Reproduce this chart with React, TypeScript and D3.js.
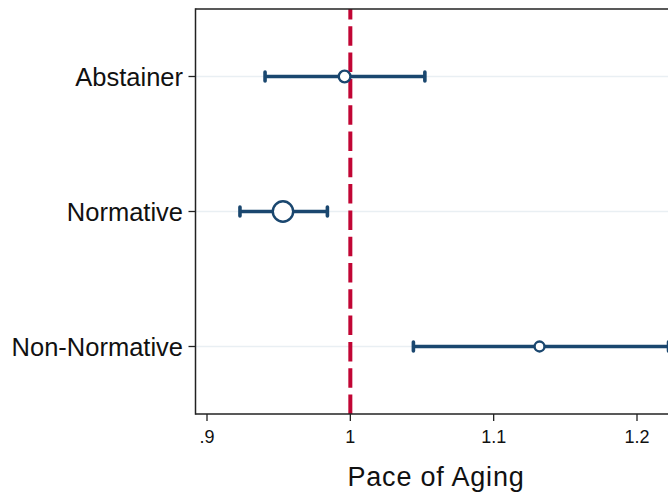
import React from "react";
import * as d3 from "d3";

const categories = ["Abstainer", "Normative", "Non-Normative"];
const estimates = [0.996, 0.953, 1.132];
const lowerCI = [0.9405, 0.923, 1.044];
const upperCI = [1.052, 0.984, 1.222];
const groupShare = [0.21, 0.64, 0.15];
const xTicks = [0.9, 1.0, 1.1, 1.2];
const xTickLabels = [".9", "1", "1.1", "1.2"];
const referenceValue = 1;
const xTitle = "Pace of Aging";

const W = 668;
const H = 496;
const left = 195.5;
const top = 9;
const bottom = 414;

export default function App() {
  const x = d3.scaleLinear().domain([0.9, 1.2]).range([207, 637]);
  const y = d3.scalePoint<string>().domain(categories).range([top, bottom]).padding(0.5);
  const r = d3.scaleSqrt().domain([0, 0.64]).range([0, 10.2]);
  const navy = "#1a476f";
  const red = "#c10534";
  const font = "'Liberation Sans', Arial, Helvetica, sans-serif";
  const axisColor = "#222";

  return (
    <svg width={W} height={H} style={{ position: "absolute", left: 0, top: 0, background: "#fff" }} fontFamily={font}>
      <rect x={0} y={0} width={W} height={H} fill="#fff" />
      {categories.map((c) => (
        <line key={"g" + c} x1={left} x2={W} y1={y(c)} y2={y(c)} stroke="#e9eff3" strokeWidth={1.6} />
      ))}
      <line x1={x(referenceValue)} x2={x(referenceValue)} y1={bottom} y2={top} stroke={red} strokeWidth={4} strokeDasharray="19.5 6.8" />
      {categories.map((c, i) => {
        const cy = y(c)!;
        return (
          <g key={"ci" + c}>
            <line x1={x(lowerCI[i])} x2={x(upperCI[i])} y1={cy} y2={cy} stroke={navy} strokeWidth={3.6} />
            {[lowerCI[i], upperCI[i]].map((v, j) => (
              <line key={j} x1={x(v)} x2={x(v)} y1={cy - 4.5} y2={cy + 4.5} stroke={navy} strokeWidth={3.6} strokeLinecap="round" />
            ))}
          </g>
        );
      })}
      {categories.map((c, i) => (
        <circle key={"m" + c} cx={x(estimates[i])} cy={y(c)} r={r(groupShare[i])} fill="#fff" stroke={navy} strokeWidth={2.4} />
      ))}
      <line x1={left} x2={W} y1={top} y2={top} stroke={axisColor} strokeWidth={1.5} />
      <line x1={left} x2={left} y1={top - 0.75} y2={bottom + 0.75} stroke={axisColor} strokeWidth={1.5} />
      <line x1={left} x2={W} y1={bottom} y2={bottom} stroke={axisColor} strokeWidth={1.5} />
      {categories.map((c) => (
        <g key={"yl" + c}>
          <line x1={left - 7} x2={left} y1={y(c)} y2={y(c)} stroke={axisColor} strokeWidth={1.3} />
          <text x={183} y={y(c)} dy="0.36em" textAnchor="end" fontSize={25.5} fill="#111">
            {c}
          </text>
        </g>
      ))}
      {xTicks.map((t, i) => (
        <g key={"xt" + t}>
          <line x1={x(t)} x2={x(t)} y1={bottom} y2={bottom + 7} stroke={axisColor} strokeWidth={1.3} />
          <text x={x(t)} y={442.5} textAnchor="middle" fontSize={18} fill="#111">
            {xTickLabels[i]}
          </text>
        </g>
      ))}
      <text x={436} y={486} textAnchor="middle" fontSize={27} letterSpacing={0.8} fill="#111">
        {xTitle}
      </text>
    </svg>
  );
}
